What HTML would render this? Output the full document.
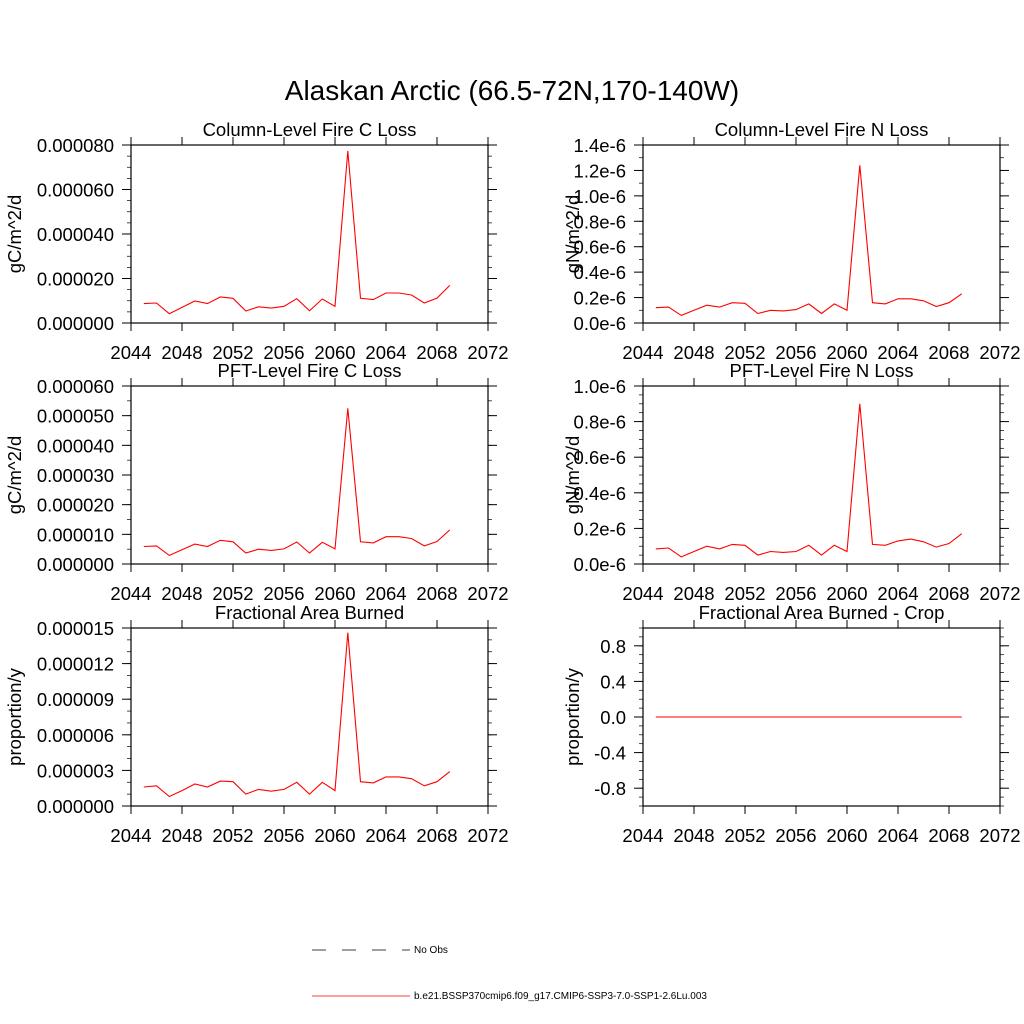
<!DOCTYPE html>
<html><head><meta charset="utf-8"><style>
body{margin:0;background:#fff}
svg{display:block;font-family:"Liberation Sans",sans-serif}
</style></head><body>
<svg id="c" width="1024" height="1024" viewBox="0 0 1024 1024">
<text x="512" y="100" font-size="28" text-anchor="middle">Alaskan Arctic (66.5-72N,170-140W)</text>
<g>
<line x1="312" y1="950" x2="410" y2="950" stroke="#000" stroke-width="0.7" stroke-dasharray="14,16"/>
<text x="414" y="953" font-size="10">No Obs</text>
<line x1="312" y1="996" x2="410" y2="996" stroke="red" stroke-width="0.7"/>
<text x="414" y="999" font-size="10">b.e21.BSSP370cmip6.f09_g17.CMIP6-SSP3-7.0-SSP1-2.6Lu.003</text>
</g>
</svg>
<script>
const years=[2045,2046,2047,2048,2049,2050,2051,2052,2053,2054,2055,2056,2057,2058,2059,2060,2061,2062,2063,2064,2065,2066,2067,2068,2069];
const xTicks=[2044,2048,2052,2056,2060,2064,2068,2072];
const colC=[8.7,9.0,4.2,7.0,9.9,8.7,11.7,11.1,5.4,7.3,6.7,7.5,10.9,5.5,10.8,7.5,77.3,11.1,10.5,13.5,13.5,12.6,9.0,11.2,16.9];
const colN=[0.12,0.125,0.06,0.10,0.14,0.125,0.16,0.155,0.075,0.10,0.095,0.105,0.15,0.075,0.15,0.10,1.24,0.16,0.15,0.19,0.19,0.175,0.13,0.16,0.23];
const pftC=[5.9,6.1,2.9,4.8,6.7,5.9,8.0,7.5,3.7,5.0,4.6,5.1,7.4,3.7,7.3,5.1,52.5,7.5,7.1,9.2,9.2,8.6,6.1,7.6,11.5];
const pftN=[0.085,0.09,0.04,0.07,0.10,0.085,0.11,0.105,0.05,0.07,0.065,0.07,0.105,0.05,0.105,0.07,0.90,0.11,0.105,0.13,0.14,0.125,0.095,0.115,0.17];
const frac=[1.6,1.7,0.8,1.3,1.85,1.6,2.1,2.05,1.0,1.4,1.25,1.4,2.0,1.0,2.0,1.3,14.6,2.05,1.95,2.45,2.45,2.3,1.7,2.05,2.9];
const crop=[0,0,0,0,0,0,0,0,0,0,0,0,0,0,0,0,0,0,0,0,0,0,0,0,0];
const colCTicks=["0.000000","0.000020","0.000040","0.000060","0.000080"];
const colNTicks=["0.0e-6","0.2e-6","0.4e-6","0.6e-6","0.8e-6","1.0e-6","1.2e-6","1.4e-6"];
const pftCTicks=["0.000000","0.000010","0.000020","0.000030","0.000040","0.000050","0.000060"];
const pftNTicks=["0.0e-6","0.2e-6","0.4e-6","0.6e-6","0.8e-6","1.0e-6"];
const fracTicks=["0.000000","0.000003","0.000006","0.000009","0.000012","0.000015"];
const cropTicks=["-0.8","-0.4","0.0","0.4","0.8"];
const NS='http://www.w3.org/2000/svg';
const svg=document.getElementById('c');
function mk(t,a,p){const e=document.createElementNS(NS,t);for(const k in a)e.setAttribute(k,a[k]);(p||svg).appendChild(e);return e;}
const panels=[
 {key:'col-c',title:'Column-Level Fire C Loss',yt:'gC/m^2/d',x0:131,y0:145,data:colC,min:0,max:80,labels:colCTicks,lv:[0,20,40,60,80],minor:5},
 {key:'col-n',title:'Column-Level Fire N Loss',yt:'gN/m^2/d',x0:643,y0:145,data:colN,min:0,max:1.4,labels:colNTicks,lv:[0,0.2,0.4,0.6,0.8,1.0,1.2,1.4],minor:0.1},
 {key:'pft-c',title:'PFT-Level Fire C Loss',yt:'gC/m^2/d',x0:131,y0:386,data:pftC,min:0,max:60,labels:pftCTicks,lv:[0,10,20,30,40,50,60],minor:5},
 {key:'pft-n',title:'PFT-Level Fire N Loss',yt:'gN/m^2/d',x0:643,y0:386,data:pftN,min:0,max:1.0,labels:pftNTicks,lv:[0,0.2,0.4,0.6,0.8,1.0],minor:0.05},
 {key:'frac',title:'Fractional Area Burned',yt:'proportion/y',x0:131,y0:628,data:frac,min:0,max:15,labels:fracTicks,lv:[0,3,6,9,12,15],minor:1},
 {key:'crop',title:'Fractional Area Burned - Crop',yt:'proportion/y',x0:643,y0:628,data:crop,min:-1,max:1,labels:cropTicks,lv:[-0.8,-0.4,0,0.4,0.8],minor:0.1}
];
const W=357,H=178,FS=18.5;
panels.forEach(p=>{
 const g=mk('g',{});
 
 
 const X=v=>p.x0+(v-2044)/28*W;
 const Y=v=>p.y0+H-(v-p.min)/(p.max-p.min)*H;
 const t=mk('text',{x:p.x0+W/2,y:p.y0-9,'font-size':FS,'text-anchor':'middle'},g);t.textContent=p.title;
 
 const right=p.x0>600;
 const ytx=mk('text',{x:0,y:0,'font-size':FS,'text-anchor':'middle',transform:`translate(${right?p.x0-64:21},${p.y0+H/2}) rotate(-90)`},g);ytx.textContent=p.yt;
 
 const fr=mk('rect',{x:p.x0,y:p.y0,width:W,height:H,fill:'none',stroke:'#000','stroke-width':1.2},g);
 
 xTicks.forEach(v=>{const x=X(v);
  mk('line',{x1:x,y1:p.y0+H,x2:x,y2:p.y0+H+8,stroke:'#000'},g);
  mk('line',{x1:x,y1:p.y0,x2:x,y2:p.y0-8,stroke:'#000'},g);
  const tl=mk('text',{x:x,y:p.y0+H+36,'font-size':FS,'text-anchor':'middle'},g);tl.textContent=v;
  });
 for(let v=p.min;v<=p.max+1e-9;v+=p.minor){const y=Y(v);
  mk('line',{x1:p.x0,y1:y,x2:p.x0-4,y2:y,stroke:'#000','stroke-width':0.7},g);
  mk('line',{x1:p.x0+W,y1:y,x2:p.x0+W+4,y2:y,stroke:'#000','stroke-width':0.7},g);}
 p.lv.forEach((v,i)=>{const y=Y(v);
  mk('line',{x1:p.x0,y1:y,x2:p.x0-9,y2:y,stroke:'#000'},g);
  mk('line',{x1:p.x0+W,y1:y,x2:p.x0+W+9,y2:y,stroke:'#000'},g);
  const tl=mk('text',{x:p.x0-17,y:y+7,'font-size':FS,'text-anchor':'end'},g);tl.textContent=p.labels[i];
  });
 const pts=p.data.map((v,i)=>X(years[i]).toFixed(1)+','+Y(v).toFixed(1)).join(' ');
 const ln=mk('polyline',{points:pts,fill:'none',stroke:'red','stroke-width':1.1},g);
 
});
</script>
</body></html>
